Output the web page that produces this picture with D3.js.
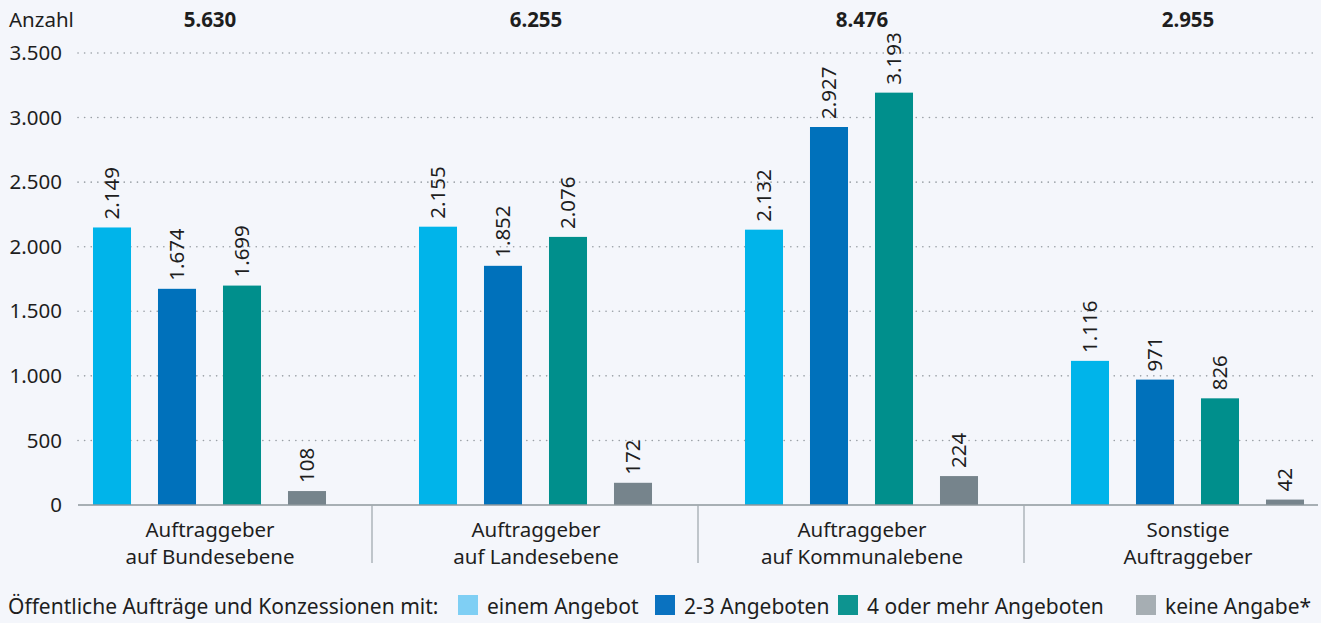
<!DOCTYPE html>
<html>
<head>
<meta charset="utf-8">
<script src="https://cdn.jsdelivr.net/npm/d3@7"></script>
<style>
  body { margin: 0; background: #f4f6fb; }
  svg { display: block; font-family: 'Noto Sans', 'Open Sans', sans-serif; }
</style>
</head>
<body>
<div id="chart"></div>
<script>
// data
const categories = [
    ['Auftraggeber', 'auf Bundesebene'],
    ['Auftraggeber', 'auf Landesebene'],
    ['Auftraggeber', 'auf Kommunalebene'],
    ['Sonstige', 'Auftraggeber']
];
const totals = ['5.630', '6.255', '8.476', '2.955'];
const seriesNames = ['einem Angebot', '2-3 Angeboten', '4 oder mehr Angeboten', 'keine Angabe*'];
const einemAngebot = [2149, 2155, 2132, 1116];
const zweiDreiAngebote = [1674, 1852, 2927, 971];
const vierOderMehr = [1699, 2076, 3193, 826];
const keineAngabe = [108, 172, 224, 42];
const yTicks = [0, 500, 1000, 1500, 2000, 2500, 3000, 3500];

const barColors = ['#00b4ea', '#0071bb', '#008f8c', '#76848c'];
const legendColors = ['#7fcff4', '#0a72c0', '#0d9490', '#a6aeb3'];

const width = 1321;
const height = 623;
const fontSize = 20.5;
const textColor = '#1e1e1e';
const fmt = d3.formatLocale({ decimal: ',', thousands: '.', grouping: [3], currency: ['', ''] }).format(',d');

const series = [einemAngebot, zweiDreiAngebote, vierOderMehr, keineAngabe];
const data = categories.map((c, i) => ({
    idx: i,
    values: series.map((s, j) => ({ key: j, value: s[i] }))
}));

const svg = d3.select('#chart')
    .append('svg')
    .attr('width', width)
    .attr('height', height);

svg.append('rect')
    .attr('width', width)
    .attr('height', height)
    .attr('fill', '#f4f6fb');

let x = d3.scaleBand()
    .domain(d3.range(categories.length))
    .range([47, 1351])
    .padding(0);

let xInner = d3.scaleBand()
    .domain(d3.range(series.length))
    .range([32.5, x.bandwidth() - 33.5])
    .paddingInner(0.415)
    .paddingOuter(0.2075);

let y = d3.scaleLinear()
    .domain([0, 3500])
    .range([505, 53]);

const axisLeft = 78, axisRight = 1318;

// gridlines
svg.append('g')
    .selectAll('line')
    .data(yTicks.filter(d => d > 0))
    .join('line')
    .attr('x1', axisLeft)
    .attr('x2', axisRight)
    .attr('y1', d => y(d))
    .attr('y2', d => y(d))
    .attr('stroke', '#9aa0a6')
    .attr('stroke-width', 1.6)
    .attr('stroke-linecap', 'round')
    .attr('stroke-dasharray', '0.1 6.5');

// y tick labels
svg.append('g')
    .selectAll('text')
    .data(yTicks)
    .join('text')
    .attr('x', 62)
    .attr('y', d => y(d))
    .attr('dy', '0.35em')
    .attr('text-anchor', 'end')
    .attr('font-size', fontSize)
    .attr('fill', textColor)
    .text(d => fmt(d));

svg.append('text')
    .attr('x', 9)
    .attr('y', 27)
    .attr('font-size', fontSize)
    .attr('fill', textColor)
    .text('Anzahl');

// totals
svg.append('g')
    .selectAll('text')
    .data(totals)
    .join('text')
    .attr('x', (d, i) => x(i) + x.bandwidth() / 2)
    .attr('y', 27)
    .attr('text-anchor', 'middle')
    .attr('font-size', fontSize)
    .attr('font-weight', 'bold')
    .attr('fill', textColor)
    .text(d => d);

// bars
let groups = svg.append('g')
    .selectAll('g')
    .data(data)
    .join('g')
    .attr('transform', d => `translate(${x(d.idx)},0)`);

groups.selectAll('rect')
    .data(d => d.values)
    .join('rect')
    .attr('x', d => xInner(d.key))
    .attr('y', d => y(d.value))
    .attr('width', xInner.bandwidth())
    .attr('height', d => y(0) - y(d.value))
    .attr('fill', d => barColors[d.key]);

groups.selectAll('text')
    .data(d => d.values)
    .join('text')
    .attr('transform', d => `translate(${xInner(d.key) + xInner.bandwidth() / 2},${y(d.value) - 8}) rotate(-90)`)
    .attr('dy', '0.35em')
    .attr('text-anchor', 'start')
    .attr('font-size', fontSize)
    .attr('fill', textColor)
    .text(d => fmt(d.value));

// baseline + dividers
svg.append('line')
    .attr('x1', axisLeft)
    .attr('x2', axisRight)
    .attr('y1', y(0))
    .attr('y2', y(0))
    .attr('stroke', '#8e979d')
    .attr('stroke-width', 1.5);

svg.append('g')
    .selectAll('line')
    .data(d3.range(1, categories.length))
    .join('line')
    .attr('x1', d => x(d) - 1)
    .attr('x2', d => x(d) - 1)
    .attr('y1', y(0))
    .attr('y2', 563)
    .attr('stroke', '#a3abb0')
    .attr('stroke-width', 1.3);

// category labels
let catLabels = svg.append('g')
    .selectAll('text')
    .data(categories)
    .join('text')
    .attr('x', (d, i) => x(i) + x.bandwidth() / 2)
    .attr('y', 537)
    .attr('text-anchor', 'middle')
    .attr('font-size', fontSize)
    .attr('fill', textColor);

catLabels.selectAll('tspan')
    .data(d => d)
    .join('tspan')
    .attr('x', function() { return this.parentNode.getAttribute('x'); })
    .attr('dy', (d, i) => i === 0 ? 0 : 27)
    .text(d => d);

// legend
let legend = svg.append('g');
legend.append('text')
    .attr('x', 8)
    .attr('y', 614)
    .attr('font-size', 21)
    .attr('fill', textColor)
    .text('Öffentliche Aufträge und Konzessionen mit:');

const legendX = [458, 655, 838, 1136];
seriesNames.forEach((name, i) => {
    legend.append('rect')
        .attr('x', legendX[i])
        .attr('y', 595)
        .attr('width', 20)
        .attr('height', 20)
        .attr('fill', legendColors[i]);
    legend.append('text')
        .attr('x', legendX[i] + 29)
        .attr('y', 614)
        .attr('font-size', 21)
        .attr('fill', textColor)
        .text(name);
});
</script>
</body>
</html>
